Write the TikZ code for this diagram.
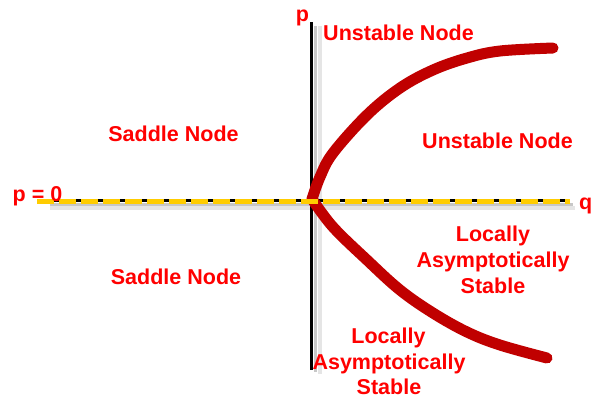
\documentclass[tikz,border=0pt]{standalone}
\usepackage{fontspec}
\setmainfont{Liberation Sans}
\definecolor{labred}{RGB}{255,0,0}
\definecolor{curvered}{RGB}{192,0,0}
\definecolor{axisyellow}{RGB}{255,204,0}
\begin{document}
\begin{tikzpicture}[x=1pt,y=-1pt,
  lbl/.style={text=labred, font=\bfseries\fontsize{21.5}{25.8}\selectfont, inner sep=0pt, anchor=base},
  curvestyle/.style={draw=curvered, line width=11pt, line cap=round, line join=round},
  axisline/.style={draw=black, line width=3pt},
  shadowA/.style={draw=black!22, line width=3pt},
  shadowB/.style={draw=black!10, line width=4pt},
  yellowdash/.style={draw=axisyellow, line width=5pt, dash pattern=on 17pt off 5pt}]
\clip (0,0) rectangle (592,405);
\fill[white] (0,0) rectangle (592,405);
% named coordinates
\coordinate (O) at (312,199);
\coordinate (ptop) at (311,22);
\coordinate (pbot) at (311,370);
\coordinate (qleft) at (40,200);
\coordinate (qright) at (570,200);
% shadows
\draw[shadowB] (320,26) -- (320,374);
\draw[shadowA] (315,26) -- (315,372);
\draw[shadowB] (50,208) -- (575,208);
\draw[shadowA] (50,204) -- (573,204);
% axes
\draw[axisline] (ptop) -- (pbot);
\draw[axisline] (qleft) -- (qright);
% curves
\draw[curvestyle] plot[smooth, tension=0.6] coordinates {(O) (320,177) (333,153) (367,115) (400,88) (433,70) (467,58) (500,51) (553,48)};
\draw[curvestyle] plot[smooth, tension=0.6] coordinates {(O) (333,227) (367,260) (400,290) (433,313) (467,332) (500,345) (547,358)};
% yellow dashes
\draw[yellowdash] (37,201) -- (570,201);
% labels
\node[lbl] (plab) at (302.5,21) {p};
\node[lbl, anchor=base west] (qlab) at (579,209) {q};
\node[lbl] (p0) at (37.5,201) {p = 0};
\node[lbl] (un1) at (398.5,40.5) {Unstable Node};
\node[lbl] (un2) at (497.5,148) {Unstable Node};
\node[lbl] (sn1) at (173.5,141.7) {Saddle Node};
\node[lbl] (sn2) at (176,284) {Saddle Node};
\node[lbl] (las1a) at (493,241.7) {Locally};
\node[lbl] (las1b) at (493,267.3) {Asymptotically};
\node[lbl] (las1c) at (493,293) {Stable};
\node[lbl] (las2a) at (388.5,343.3) {Locally};
\node[lbl] (las2b) at (389,369) {Asymptotically};
\node[lbl] (las2c) at (389,394.5) {Stable};
\end{tikzpicture}
\end{document}
